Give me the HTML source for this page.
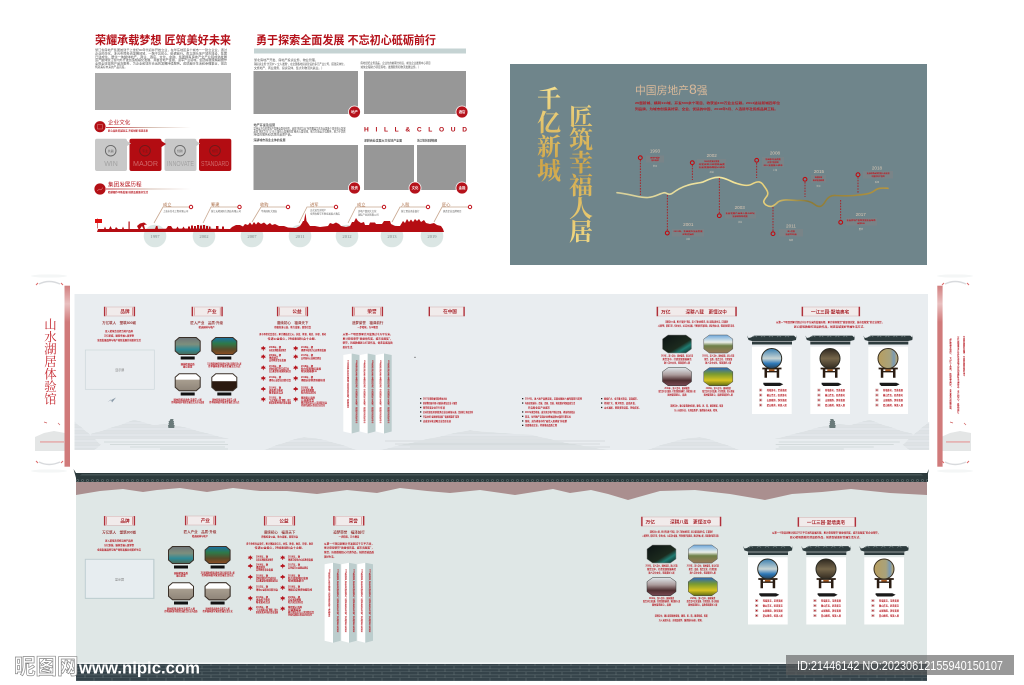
<!DOCTYPE html>
<html lang="zh"><head><meta charset="utf-8"><title>山水湖居体验馆</title>
<style>
html,body{margin:0;padding:0;background:#fff}
svg{display:block;font-family:"Liberation Sans","Noto Sans CJK SC",sans-serif}
.t{font-size:3.1px;fill:#555}
.r{font-size:2.7px;fill:#b5121b;font-weight:700}
.rs{font-size:2.3px;fill:#b5121b;font-weight:700}
.m{text-anchor:middle}
.h{font-weight:700;fill:#b5121b}
.bt{font-size:4.6px;font-weight:700;fill:#a8242b;text-anchor:middle}
.sb{font-size:3.5px;font-weight:700;fill:#9a3a3a;text-anchor:middle}
.v{writing-mode:vertical-rl;font-size:2.1px;fill:#b5121b;font-weight:700}
.g{font-family:"Noto Serif CJK SC","Liberation Serif",serif;font-weight:700;font-size:24px;text-anchor:middle;fill:url(#gold)}
.yr{font-size:4.6px;fill:#ddc9b4;text-anchor:middle}
.rr{font-size:1.9px;fill:#c2121b;font-weight:700;text-anchor:middle}
.lc{font-size:2.1px;fill:#d9cfc0;text-anchor:middle}
.ty{font-family:"Liberation Serif",serif;font-size:4.6px;fill:#7c8a8a;text-anchor:middle}
.tl{font-size:4.2px;fill:#a6653c}
.ts{font-size:2.3px;fill:#555}
.en{font-size:7px;text-anchor:middle;font-weight:400}
</style></head><body>
<svg width="1024" height="685" viewBox="0 0 1024 685" xmlns="http://www.w3.org/2000/svg">
<defs>
<linearGradient id="gold" x1="0" y1="85" x2="0" y2="245" gradientUnits="userSpaceOnUse"><stop offset="0" stop-color="#f6e08e"/><stop offset=".5" stop-color="#cfa548"/><stop offset="1" stop-color="#f3da84"/></linearGradient>
<linearGradient id="river" x1="616" y1="0" x2="890" y2="0" gradientUnits="userSpaceOnUse"><stop offset="0" stop-color="#d6cf9a"/><stop offset=".4" stop-color="#f6e89e"/><stop offset=".55" stop-color="#e7cf78"/><stop offset=".7" stop-color="#8c7a36"/><stop offset="1" stop-color="#b7963f"/></linearGradient>
<linearGradient id="fade" x1="0" x2="1"><stop offset="0" stop-color="#b5121b"/><stop offset=".5" stop-color="#c8a898"/><stop offset="1" stop-color="#fff"/></linearGradient>
<linearGradient id="bar" x1="0" x2="0" y1="0" y2="1"><stop offset="0" stop-color="#d17f7f"/><stop offset=".1" stop-color="#e9c0c0"/><stop offset=".2" stop-color="#d07a7a"/><stop offset="1" stop-color="#d07a7a"/></linearGradient>
<linearGradient id="w1" x1="0" x2="0" y1="0" y2="1"><stop offset="0" stop-color="#6f7478"/><stop offset=".4" stop-color="#7d8f7d"/><stop offset=".7" stop-color="#2f8a96"/><stop offset="1" stop-color="#4a6a55"/></linearGradient>
<linearGradient id="w2" x1="0" x2="0" y1="0" y2="1"><stop offset="0" stop-color="#1c6fa5"/><stop offset=".35" stop-color="#2d7a4a"/><stop offset=".7" stop-color="#5a4a28"/><stop offset="1" stop-color="#8c4c22"/></linearGradient>
<linearGradient id="w3" x1="0" x2="0" y1="0" y2="1"><stop offset="0" stop-color="#fff"/><stop offset=".33" stop-color="#fff"/><stop offset=".36" stop-color="#a89e90"/><stop offset="1" stop-color="#8e8478"/></linearGradient>
<linearGradient id="w4" x1="0" x2="0" y1="0" y2="1"><stop offset="0" stop-color="#fff"/><stop offset=".42" stop-color="#fff"/><stop offset=".45" stop-color="#2b1a10"/><stop offset="1" stop-color="#2b1a10"/></linearGradient>
<linearGradient id="w5" x1="0" x2="1" y1="0" y2="1"><stop offset="0" stop-color="#0b1314"/><stop offset=".6" stop-color="#1c2a1e"/><stop offset=".75" stop-color="#1f7c72"/><stop offset="1" stop-color="#0c1a18"/></linearGradient>
<linearGradient id="w6" x1="0" x2="0" y1="0" y2="1"><stop offset="0" stop-color="#6ea8dc"/><stop offset=".4" stop-color="#e9eee8"/><stop offset=".6" stop-color="#6e8048"/><stop offset="1" stop-color="#9a7a5a"/></linearGradient>
<linearGradient id="w7" x1="0" x2="0" y1="0" y2="1"><stop offset="0" stop-color="#dfe6ea"/><stop offset=".4" stop-color="#aa9a9a"/><stop offset=".7" stop-color="#4e2e30"/><stop offset="1" stop-color="#7a4a54"/></linearGradient>
<linearGradient id="w8" x1="0" x2="0" y1="0" y2="1"><stop offset="0" stop-color="#2e68b8"/><stop offset=".35" stop-color="#7a9a30"/><stop offset=".7" stop-color="#d8c420"/><stop offset="1" stop-color="#5c6a12"/></linearGradient>
<linearGradient id="c1" x1="0" x2="0" y1="0" y2="1"><stop offset="0" stop-color="#3a7fb0"/><stop offset=".5" stop-color="#c8d4d4"/><stop offset=".75" stop-color="#2d78b8"/><stop offset="1" stop-color="#254058"/></linearGradient>
<linearGradient id="c2" x1="0" x2="0" y1="0" y2="1"><stop offset="0" stop-color="#2f2820"/><stop offset=".5" stop-color="#75664a"/><stop offset="1" stop-color="#322a20"/></linearGradient>
<linearGradient id="c3" x1="0" x2="1" y1="0" y2="0"><stop offset="0" stop-color="#b99e5e"/><stop offset=".6" stop-color="#a8a27c"/><stop offset=".8" stop-color="#7a9ab4"/><stop offset="1" stop-color="#c8ac66"/></linearGradient>
<pattern id="tile" width="5" height="9" patternUnits="userSpaceOnUse"><rect width="5" height="9" fill="#2d3b3d"/><circle cx="2.5" cy="3.5" r="1.4" fill="#59686a"/><circle cx="2.5" cy="3.5" r=".6" fill="#1e2a2c"/><rect y="6.2" width="5" height="1.2" fill="#4b5a5c"/></pattern>
<pattern id="brick" width="18" height="6" patternUnits="userSpaceOnUse"><rect width="18" height="6" fill="#35434a"/><path d="M0 2.9H18M0 5.9H18M4 0V3M13 3V6" stroke="#6c7a7c" stroke-width=".45"/></pattern>
<pattern id="hl" width="2" height="1.2" patternUnits="userSpaceOnUse"><rect width="2" height="1.2" fill="#e9edf0"/><path d="M0 .6H2" stroke="#cdd4d6" stroke-width=".45"/></pattern>
<polygon id="oct" points="-12.5,-5 -8.5,-8.5 8.5,-8.5 12.5,-5 12.5,5 8.5,8.5 -8.5,8.5 -12.5,5"/>
<polygon id="oc2" points="-14.5,-5 -9,-9 9,-9 14.5,-5 14.5,5 9,9 -9,9 -14.5,5"/>
<path id="leaf" d="M0-2.4 1-.9 2.5-1 1.6 0 2.6 1 .5.9 .3 2.4H-.3L-.5.9-2.6 1-1.6 0-2.5-1-1-.9Z" fill="#b5121b"/>
<g id="tb"><rect x="0" y="0" width="31" height="9" fill="#f1ebeb" stroke="#d8b8b8" stroke-width=".6"/><rect x="0" y="-.2" width="1.3" height="9.4" fill="#b0303a"/><rect x="2.2" y=".5" width=".6" height="8" fill="#c66"/><rect x="29.7" y="-.2" width="1.3" height="9.4" fill="#b0303a"/><rect x="28.2" y=".5" width=".6" height="8" fill="#c66"/></g>
<g id="brand">
<use href="#tb" x="104" y="307"/><text class="bt" x="125" y="313">品牌</text>
<text class="sb" x="119" y="324">万亿筑人　塑筑800城</text>
<text class="rs m" x="119" y="332">匠人精筑责任担当地产品牌</text>
<text class="rs m" x="119" y="336.7">万亿新城，臻筑幸福人居梦想</text>
<text class="rs m" x="119" y="341">全面发展品牌与地产创新发展共创美好生活</text>
<rect x="85.3" y="350" width="69" height="39.3" fill="#e9edf0" stroke="#ccd7da" stroke-width=".7"/>
<text x="119.8" y="371" font-size="3" fill="#777" text-anchor="middle">显示屏</text>
</g>
<g id="product">
<use href="#tb" x="191.7" y="307"/><text class="bt" x="212" y="313">产业</text>
<text class="sb" x="206.7" y="324">匠人产业　品质·升级</text>
<text class="rs m" x="206.7" y="328">精选园林与地产</text>
<use href="#oct" x="187.7" y="346" fill="url(#w1)" stroke="#3a3028" stroke-width="1"/>
<use href="#oct" x="224.3" y="346" fill="url(#w2)" stroke="#3a3028" stroke-width="1"/>
<use href="#oct" x="187.7" y="382.3" fill="url(#w3)" stroke="#3a3028" stroke-width="1"/>
<use href="#oct" x="224.3" y="382.3" fill="url(#w4)" stroke="#3a3028" stroke-width="1"/>
<rect x="180.7" y="356.5" width="14" height="3" fill="#111"/><rect x="217.3" y="356.5" width="14" height="3" fill="#111"/>
<rect x="180.7" y="392.5" width="14" height="3" fill="#111"/><rect x="217.3" y="392.5" width="14" height="3" fill="#111"/>
<text class="rs m" x="187.7" y="365">园林精筑品质</text><text class="rs m" x="187.7" y="367.5">臻心匠造</text>
<text class="rs m" x="224.3" y="364.5" textLength="34" lengthAdjust="spacingAndGlyphs">万亿新城园林精筑品质生活匠心营造打造人居</text>
<text class="rs m" x="224.3" y="367" textLength="32" lengthAdjust="spacingAndGlyphs">传承园林美学营造幸福生活方式</text>
<text class="rs m" x="187.7" y="400.5" textLength="28" lengthAdjust="spacingAndGlyphs">园林精筑品质生活美学人居</text>
<text class="rs m" x="187.7" y="403" textLength="33" lengthAdjust="spacingAndGlyphs">传承园林美学营造幸福生活方式与品质</text>
<text class="rs m" x="224.3" y="400.5" textLength="24" lengthAdjust="spacingAndGlyphs">园林精筑品质生活美学人居</text>
<text class="rs m" x="224.3" y="403" textLength="30" lengthAdjust="spacingAndGlyphs">传承园林美学营造幸福生活方式</text>
</g>
<g id="public">
<use href="#tb" x="277" y="307"/><text class="bt" x="297" y="313">公益</text>
<text class="sb" x="292.7" y="324">赓续初心　福泽天下</text>
<text class="rs m" x="292.7" y="328">积极投身公益，助力发展，回馈社会</text>
<text class="rs m" x="292.7" y="335" textLength="67" lengthAdjust="spacingAndGlyphs">勇于承担社会责任，累计捐款近亿元，扶贫、教育、救灾、环保、助老</text>
<text class="rs m" x="292.7" y="339.3" textLength="50" lengthAdjust="spacingAndGlyphs">传递公益爱心，持续奉献社会十余载。</text>
<use href="#leaf" x="263.3" y="348.3"/><use href="#leaf" x="263.3" y="356.7"/><use href="#leaf" x="263.3" y="367.7"/><use href="#leaf" x="263.3" y="378.3"/><use href="#leaf" x="263.3" y="389"/><use href="#leaf" x="263.3" y="399.3"/>
<use href="#leaf" x="295.7" y="348.3"/><use href="#leaf" x="295.7" y="356.7"/><use href="#leaf" x="295.7" y="367.7"/><use href="#leaf" x="295.7" y="378.3"/><use href="#leaf" x="295.7" y="389"/><use href="#leaf" x="295.7" y="399.3"/>
<g class="rs">
<text x="269" y="348">2008年，捐</text><text x="269" y="351" textLength="17" lengthAdjust="spacingAndGlyphs">向灾区捐赠善款物资</text>
<text x="269" y="356">2009年，捐</text><text x="269" y="358.5">捐资助学</text><text x="269" y="361" textLength="17" lengthAdjust="spacingAndGlyphs">支持教育事业发展</text>
<text x="269" y="367">2010年，捐</text><text x="269" y="369.5" textLength="20" lengthAdjust="spacingAndGlyphs">资助贫困学生完成学业</text><text x="269" y="372" textLength="22" lengthAdjust="spacingAndGlyphs">设立基金帮扶困难家庭社区</text>
<text x="269" y="378">2012年，捐</text><text x="269" y="381" textLength="22" lengthAdjust="spacingAndGlyphs">捐助公益事业回馈社会</text>
<text x="269" y="388.5">2014年，捐</text><text x="269" y="391" textLength="14" lengthAdjust="spacingAndGlyphs">善款用于助老</text><text x="269" y="393.5" textLength="14" lengthAdjust="spacingAndGlyphs">敬老爱老活动</text>
<text x="269" y="398.5">2015年，捐</text><text x="269" y="401" textLength="22" lengthAdjust="spacingAndGlyphs">“万亿新城公益”捐赠，助力</text><text x="269" y="403.5" textLength="22" lengthAdjust="spacingAndGlyphs">脱贫攻坚乡村振兴事业发展</text>
<text x="301" y="348">2016年，捐</text><text x="301" y="351" textLength="25" lengthAdjust="spacingAndGlyphs">捐建学校助力山区教育发展</text>
<text x="301" y="356">2017年，捐</text><text x="301" y="359" textLength="20" lengthAdjust="spacingAndGlyphs">支持城市公益基金建设</text>
<text x="301" y="367">2018年，捐</text><text x="301" y="369.5" textLength="20" lengthAdjust="spacingAndGlyphs">助力贫困地区发展</text><text x="301" y="372" textLength="16" lengthAdjust="spacingAndGlyphs">帮扶困难群众</text>
<text x="301" y="378">2019年，捐</text><text x="301" y="381" textLength="24" lengthAdjust="spacingAndGlyphs">捐赠抗疫物资驰援前线</text>
<text x="301" y="388.5">2020年，捐</text><text x="301" y="391" textLength="13" lengthAdjust="spacingAndGlyphs">抗疫善款捐赠</text><text x="301" y="393.5" textLength="15" lengthAdjust="spacingAndGlyphs">助力社区防控</text>
<text x="301" y="398.5">集团爱心品牌</text><text x="301" y="401" textLength="13" lengthAdjust="spacingAndGlyphs">公益基金会</text><text x="301" y="403.5" textLength="26" lengthAdjust="spacingAndGlyphs">累计帮扶近万人次回馈社会</text><text x="301" y="406" textLength="24" lengthAdjust="spacingAndGlyphs">持续传递爱心彰显企业责任</text>
</g>
</g>
<g id="honor">
<use href="#tb" x="352" y="307"/><text class="bt" x="372" y="313">荣誉</text>
<text class="sb" x="367.7" y="324">追梦荣誉　福泽前行</text>
<text class="rs m" x="367.7" y="328">一步精筑，万众瞩目</text>
<g class="rs"><text x="342.7" y="335" textLength="50" lengthAdjust="spacingAndGlyphs">从第一个项目到累计开发超过千万平方米，</text><text x="342.7" y="339.3" textLength="50" lengthAdjust="spacingAndGlyphs">累计获得荣誉“质量领先奖、城市贡献奖”，</text><text x="342.7" y="343.7" textLength="50" lengthAdjust="spacingAndGlyphs">荣誉，历经数载匠心打造作品，创造百城品质</text><text x="342.7" y="348" textLength="12" lengthAdjust="spacingAndGlyphs">美好生活。</text></g>
<polygon points="343.3,355 351.7,353.5 351.7,433.5 343.3,431.5" fill="#fff"/><polygon points="351.7,353.5 359.3,355 359.3,431.5 351.7,433.5" fill="#bccdcd"/>
<polygon points="360,355 367.7,353.5 367.7,433.5 360,431.5" fill="#fff"/><polygon points="367.7,353.5 375.3,355 375.3,431.5 367.7,433.5" fill="#bccdcd"/>
<polygon points="376,355 384,353.5 384,433.5 376,431.5" fill="#fff"/><polygon points="384,353.5 391.7,355 391.7,431.5 384,433.5" fill="#bccdcd"/>
<text class="v" x="347.5" y="360" textLength="48" lengthAdjust="spacingAndGlyphs">2010年荣获地产开发企业品牌奖项，荣获城市优秀企业称号，诚信经营单位</text>
<text class="v" x="356" y="360" textLength="63" lengthAdjust="spacingAndGlyphs">2012年荣誉地产开发企业品牌价值领先，荣获城市优秀企业称号，诚信经营单位优秀示范</text>
<text class="v" x="364" y="360" textLength="63" lengthAdjust="spacingAndGlyphs">2014年荣获地产开发企业品牌价值领先，荣获城市优秀企业称号，诚信经营单位优秀示范</text>
<text class="v" x="372" y="360" textLength="63" lengthAdjust="spacingAndGlyphs">2015年荣获地产开发企业品牌价值领先，荣获城市优秀企业称号，诚信经营单位优秀示范</text>
<text class="v" x="380" y="360" textLength="63" lengthAdjust="spacingAndGlyphs">2016年荣获地产开发企业品牌价值领先，荣获城市优秀企业称号，诚信经营单位优秀示范</text>
<text class="v" x="388" y="360" textLength="63" lengthAdjust="spacingAndGlyphs">2017年荣获地产开发企业品牌价值领先，荣获城市优秀企业称号，诚信经营单位优秀示范</text>
</g>
<g id="wy">
<rect x="656.7" y="307" width="80" height="9" fill="#f1ebeb" stroke="#d8b8b8" stroke-width=".6"/><rect x="656.7" y="306.8" width="1.4" height="9.4" fill="#b0303a"/><rect x="735.3" y="306.8" width="1.4" height="9.4" fill="#b0303a"/>
<text x="661" y="313.3" font-size="4.8" font-weight="700" fill="#a8242b">万亿</text><text x="685.5" y="313.3" font-size="4.6" font-weight="700" fill="#a8242b">深耕八载　更懂汉中</text>
<text class="rs m" x="696.7" y="322.3" textLength="63" lengthAdjust="spacingAndGlyphs">深耕汉中八载，累计开发多个项目，深入了解本地需求，匠心营造品质生活，汇聚美好</text>
<text class="rs m" x="696.7" y="326.3" textLength="78" lengthAdjust="spacingAndGlyphs">人居梦想，精筑万家，传承文化，立足汉中发展，不断创新开发理念，建设幸福人居，筑就美好城市未来。</text>
<use href="#oc2" x="677" y="344" fill="url(#w5)" stroke="#888" stroke-width=".5"/>
<use href="#oc2" x="718.3" y="344" fill="url(#w6)" stroke="#555" stroke-width=".5"/>
<use href="#oc2" x="677" y="376.7" fill="url(#w7)" stroke="#333" stroke-width=".5"/>
<use href="#oc2" x="718.3" y="376.7" fill="url(#w8)" stroke="#444" stroke-width=".5"/>
<g class="rs m"><text x="677" y="356.5" textLength="32" lengthAdjust="spacingAndGlyphs">2016年，深入汉中，园林营造，匠心打造</text><text x="677" y="360" textLength="29" lengthAdjust="spacingAndGlyphs">荣誉汉中，打造宜居新城典范</text><text x="677" y="363.3" textLength="26" lengthAdjust="spacingAndGlyphs">融入汉中文化，筑就美好人居</text>
<text x="718.3" y="356.5" textLength="32" lengthAdjust="spacingAndGlyphs">2018年，深入汉中，园林营造，匠心打造</text><text x="718.3" y="360" textLength="28" lengthAdjust="spacingAndGlyphs">荣誉，品质，融合文化，打造宜居</text><text x="718.3" y="363.3" textLength="26" lengthAdjust="spacingAndGlyphs">融入汉中文化，筑就美好人居</text>
<text x="677" y="388.8" textLength="25" lengthAdjust="spacingAndGlyphs">2019年，深入汉中，园林营造</text><text x="677" y="392.2" textLength="37" lengthAdjust="spacingAndGlyphs">融合汉中文化发展，打造宜居新城典范，筑就美好人居</text><text x="677" y="395.6" textLength="19" lengthAdjust="spacingAndGlyphs">园林营造匠心，品质</text>
<text x="718.3" y="388.8" textLength="25" lengthAdjust="spacingAndGlyphs">2020年，深入汉中，园林营造</text><text x="718.3" y="392.2" textLength="32" lengthAdjust="spacingAndGlyphs">融合汉中文化发展，打造宜居，匠心新城</text><text x="718.3" y="395.6" textLength="29" lengthAdjust="spacingAndGlyphs">园林营造匠心，品质筑就美好人居</text></g>
<text class="rs m" x="696.7" y="406.5" textLength="53" lengthAdjust="spacingAndGlyphs">深耕汉中，臻心营造园林宜居，臻筑、匠、精，臻造新城，筑美</text>
<text class="rs m" x="696.7" y="411" textLength="45" lengthAdjust="spacingAndGlyphs">万人安居乐业，实现品质梦，臻造城市未来，精筑。</text>
</g>
<g id="cb">
<rect x="0" y="346.7" width="39.7" height="67.3" fill="#fff"/>
<path d="M-5,335.5 -3.5,338 -1,337.5 2,335.6 42,335.6 44,337.5 44.7,335 44,340 40,341 40,344.5 0,344.5 0,341 -3.5,340Z" fill="#2d3b3d"/>
<path d="M0,341.5H40" stroke="#fff" stroke-width=".5"/><path d="M1,337 3,335.5 5,337M9,337 11,335.5 13,337M17,337 19,335.5 21,337M25,337 27,335.5 29,337M33,337 35,335.5 37,337" stroke="#7c8a8c" stroke-width=".6" fill="none"/>
<path d="M10.3,367.6H29.5V369.4H10.3ZM12.5,369.4H15V377.8H12.5ZM24.7,369.4H27.2V377.8H24.7ZM15,371H24.7V372.4H15Z" fill="#2a1c12"/>
<rect x="17" y="369.4" width="5.5" height="1.6" fill="#a85a20"/>
<path d="M11.3,382.7H28L31.3,384.3 28,386H13L11.3,384.3Z" fill="#1a1a1a"/>
<g fill="#d6b8b8"><rect x="7" y="388.7" width="3.2" height="2.8"/><rect x="7" y="393.7" width="3.2" height="2.8"/><rect x="7" y="398.7" width="3.2" height="2.8"/><rect x="7" y="403.7" width="3.2" height="2.8"/></g>
<g fill="#b5121b"><rect x="8" y="389.5" width="1.2" height="1.2"/><rect x="8" y="394.5" width="1.2" height="1.2"/><rect x="8" y="399.5" width="1.2" height="1.2"/><rect x="8" y="404.5" width="1.2" height="1.2"/></g>
<g class="rs"><text x="14.7" y="390.8" textLength="20" lengthAdjust="spacingAndGlyphs">苑墙美宅，至善美居</text><text x="14.7" y="395.8" textLength="20" lengthAdjust="spacingAndGlyphs">徽山青瓦，匠造美宅</text><text x="14.7" y="400.8" textLength="20" lengthAdjust="spacingAndGlyphs">山居雅韵，静享美居</text><text x="14.7" y="405.8" textLength="20" lengthAdjust="spacingAndGlyphs">墅山雅苑，筑美人居</text></g>
</g>
<g id="yj">
<rect x="801.7" y="307" width="58.3" height="9" fill="#f1ebeb" stroke="#d8b8b8" stroke-width=".6"/><rect x="801.7" y="306.8" width="1.4" height="9.4" fill="#b0303a"/><rect x="858.6" y="306.8" width="1.4" height="9.4" fill="#b0303a"/>
<text x="830" y="313.3" font-size="4.6" font-weight="700" fill="#a8242b" text-anchor="middle">一江三园·墅墙奥宅</text>
<text class="rs m" x="830" y="323" textLength="108" lengthAdjust="spacingAndGlyphs">从第一个项目到累计超过千万平方米的发展历程，累计获得荣誉“质量领先奖、城市贡献奖”的企业荣誉，</text>
<text class="rs m" x="830" y="327.6" textLength="72" lengthAdjust="spacingAndGlyphs">匠心精筑数载打造品质作品，创造百城美好幸福生活方式。</text>
<use href="#cb" x="752"/><use href="#cb" x="810.3"/><use href="#cb" x="868.3"/>
<circle cx="771.7" cy="358.5" r="10" fill="url(#c1)" stroke="#2a2a22" stroke-width="1"/>
<circle cx="830" cy="358.5" r="10" fill="url(#c2)" stroke="#2a2a22" stroke-width="1"/>
<circle cx="888" cy="358.5" r="10" fill="url(#c3)" stroke="#3a3020" stroke-width="1"/>
</g>
<g id="sc">
<ellipse cx="15" cy="276" rx="18" ry="1.6" fill="#f4f6f6"/><ellipse cx="15" cy="471" rx="18" ry="1.6" fill="#f4f6f6"/>
<path d="M5 284Q15 279 26 284" stroke="#d8dadd" stroke-width="1.4" fill="none"/><path d="M5 462Q15 467 26 462" stroke="#d8dadd" stroke-width="1.4" fill="none"/>
<path d="M2,285 4,283M29,285 27,283M2,461 4,463M29,461 27,463" stroke="#d66" stroke-width="1" fill="none"/>
<path d="M1,437 10,433 20,431 31,433 31,451 1,451Z" fill="#e4e6e6"/><rect x="6" y="441" width="24" height="1.8" fill="#e5b4b4"/>
<path d="M10 422l3 1M24 423l2 2" stroke="#d06060" stroke-width=".7"/>
</g>
<g id="hills">
<path d="M74.500,421.700Q90,434 101,445L94,450H74.500Z" fill="url(#hl)"/>
<path d="M91,434Q115,427 134,420Q146,423 154,425Q166,423 172,425Q190,428 205,433Q218,436 229,439H91Z" fill="url(#hl)"/>
<path d="M264,450Q290,440 304,437Q325,439 345,446L357,450Z" fill="url(#hl)"/>
<path d="M104,442H225M110,444.500H228M130,447H225M160,449H228" stroke="#ccd3d3" stroke-width=".7" fill="none"/>
<path d="M170.500,419h3l-.4,2h.9l-.4,2h.6l-.5,2h.9l-.4,3h-5.800l-.4-3h.9l-.5-2h.6l-.4-2h.9Z" fill="#6a7a7a"/>
</g>
</defs>
<rect width="1024" height="685" fill="#fff"/>

<!-- top-left board -->
<text x="95" y="44" font-size="11.6" class="h" textLength="136" lengthAdjust="spacingAndGlyphs">荣耀承载梦想 匠筑美好未来</text>
<text x="256" y="44" font-size="11.4" class="h" textLength="180" lengthAdjust="spacingAndGlyphs">勇于探索全面发展 不忘初心砥砺前行</text>
<rect x="254" y="48.500" width="212" height="5" fill="#c5d3d3"/>
<g class="t"><text x="95" y="51" textLength="132" lengthAdjust="spacingAndGlyphs">浙江省房地产集团始建于上世纪90年代初并开始立业，在华东地区多个城市一一建立企业，通过</text><text x="95" y="54.400" textLength="132" lengthAdjust="spacingAndGlyphs">企业的深化，多元布局投资发展领域，一路不忘初心、砥砺前行。勇立潮头地产城市建设，集团</text><text x="95" y="57.800" textLength="132" lengthAdjust="spacingAndGlyphs">已建成住、居住一体整体地产、商业、酒店、文化、金融、集团拥有房地产全产业链成熟发展</text><text x="95" y="61.200" textLength="132" lengthAdjust="spacingAndGlyphs">运产整体浙江省内外开发创造规模化发展、并整合地产金融、进军产业领域。集团将继续精耕细作</text><text x="95" y="64.600" textLength="132" lengthAdjust="spacingAndGlyphs">全筑全球建筑产品及服务、为企业和城市长远的发展持续服务。成就美好生活和幸福事业，提高</text><text x="95" y="68" textLength="32" lengthAdjust="spacingAndGlyphs">筑就美好未来的产品高度。</text></g>
<rect x="95" y="73" width="136" height="37" fill="#aaa"/>
<circle cx="100" cy="126.700" r="5.600" fill="#b30f15"/><rect x="97.500" y="124.500" width="5" height="4.500" fill="none" stroke="#e8a0a0" stroke-width=".4"/>
<text x="108" y="124.500" font-size="5.600" fill="#b5121b">企业文化</text>
<rect x="106" y="127" width="85" height=".8" fill="url(#fade)"/>
<text class="rs" x="108" y="131.500" textLength="40" lengthAdjust="spacingAndGlyphs">匠心品质 精诚务实 开拓创新 筑造未来</text>
<rect x="95" y="138.700" width="32" height="32.300" rx="2" fill="#c8c8c8"/><rect x="129.500" y="138.700" width="32" height="32.300" rx="2" fill="#b30c12"/><rect x="164.500" y="138.700" width="32" height="32.300" rx="2" fill="#c8c8c8"/><rect x="199" y="138.700" width="32.300" height="32.300" rx="2" fill="#b30c12"/>
<path d="M127,141 131,143.500 127,146Z" fill="#c8c8c8"/><path d="M161.500,141 166,144 161.500,147Z" fill="#b30c12"/><path d="M196.500,141 200,143.500 196.500,146Z" fill="#c8c8c8"/>
<g fill="none" stroke-width=".9"><circle cx="110.700" cy="150.700" r="5.300" stroke="#666"/><circle cx="145" cy="150.700" r="5.300" stroke="#6d1a1a"/><circle cx="180" cy="150.700" r="5.300" stroke="#666"/><circle cx="215" cy="150.700" r="5.300" stroke="#6d1a1a"/></g>
<g font-size="3" text-anchor="middle"><text x="110.700" y="151.800" fill="#666">共赢</text><text x="145" y="151.800" fill="#6d1a1a">专业</text><text x="180" y="151.800" fill="#666">创新</text><text x="215" y="151.800" fill="#6d1a1a">规范</text></g>
<text class="en" x="111" y="166" fill="#a2a2a2">WIN</text><text class="en" x="145.500" y="166" fill="#cf6a6a" textLength="25" lengthAdjust="spacingAndGlyphs">MAJOR</text><text class="en" x="180.500" y="166" fill="#a2a2a2" textLength="27" lengthAdjust="spacingAndGlyphs">INNOVATE</text><text class="en" x="215" y="166" fill="#cf6a6a" textLength="28" lengthAdjust="spacingAndGlyphs">STANDARD</text>
<circle cx="100" cy="189" r="5.600" fill="#b30f15"/><path d="M97,191 99.500,189 101,190 103,187.500" stroke="#e8a0a0" stroke-width=".5" fill="none"/>
<text x="108" y="186.500" font-size="5.600" fill="#b5121b">集团发展历程</text>
<rect x="106" y="188.600" width="85" height=".8" fill="url(#fade)"/>
<text class="rs" x="108" y="193.200" textLength="40" lengthAdjust="spacingAndGlyphs">精耕细作不断发展 创造品质美好生活</text>

<g class="t"><text x="254" y="60.800" textLength="64" lengthAdjust="spacingAndGlyphs">浙北房地产开发、房地产投资业务、物业管理、</text><text x="254" y="64.800" textLength="92" lengthAdjust="spacingAndGlyphs">销投资业务“长流水”+“立人发展”，在全国各地投资建设的多元产业公司、搭建实体化，</text><text x="254" y="68.800" textLength="70" lengthAdjust="spacingAndGlyphs">文旅地产、商业服务、投资实体、集大利物流共赢业。）</text></g>
<g class="t"><text x="360.500" y="64" textLength="70" lengthAdjust="spacingAndGlyphs">房地经纪业务涵盖，企业化的前期分析后，前往企业发展中心项目</text><text x="360.500" y="68" textLength="60" lengthAdjust="spacingAndGlyphs">诚信全程助力项目落地，发展服务和物流发展业务。）</text></g>
<g fill="#979797"><rect x="253.500" y="71" width="104.500" height="43"/><rect x="364" y="71" width="102" height="43"/><rect x="253.500" y="145" width="104.500" height="45"/><rect x="364" y="145" width="50" height="45"/><rect x="417" y="145" width="49" height="45"/></g>
<g fill="#b5121b" stroke="#fff" stroke-width=".8"><circle cx="354.500" cy="112" r="6"/><circle cx="462" cy="112" r="6"/><circle cx="354.500" cy="188" r="6"/><circle cx="415" cy="188" r="6"/><circle cx="462" cy="188" r="6"/></g>
<g font-size="3.400" fill="#fff" text-anchor="middle" font-weight="700"><text x="354.500" y="113.200">地产</text><text x="462" y="113.200">酒店</text><text x="354.500" y="189.200">投资</text><text x="415" y="189.200">文化</text><text x="462" y="189.200">金融</text></g>
<g class="t"><text x="253.500" y="126" font-weight="700">地产开发及运营</text><text x="253.500" y="129.600" textLength="92" lengthAdjust="spacingAndGlyphs">坚持全方位的房地产发展全面化布局，品牌“筑就立业”布局覆盖华东及全国多个城市核心区域</text><text x="253.500" y="132.600" textLength="92" lengthAdjust="spacingAndGlyphs">品牌“筑就华东”与“长三角核心发展的城”整合人居领域，致力打造全方位服务，筑力于优质</text><text x="253.500" y="135.600" textLength="40" lengthAdjust="spacingAndGlyphs">持续的服务和优质的品质产品。</text><text x="253.500" y="141" font-weight="700" textLength="32" lengthAdjust="spacingAndGlyphs">深耕城市商业主体的发展</text></g>
<text x="364" y="131.500" font-size="6.600" font-weight="700" fill="#b5121b" textLength="103" lengthAdjust="spacing">HILL&amp;CLOUD</text>
<text class="t" x="364" y="141.500" font-weight="700" textLength="38" lengthAdjust="spacingAndGlyphs">深耕商业发展大文化地产全面</text><text class="t" x="417" y="141.500" font-weight="700" textLength="20" lengthAdjust="spacingAndGlyphs">浙江地块深耕精细</text>

<!-- timeline -->
<g fill="#dbe6e4"><circle cx="155" cy="236" r="11.300"/><circle cx="204" cy="236" r="11.300"/><circle cx="252" cy="236" r="11.300"/><circle cx="300" cy="236" r="11.300"/><circle cx="347" cy="236" r="11.300"/><circle cx="392" cy="236" r="11.300"/><circle cx="432" cy="236" r="11.300"/></g>
<g class="ty"><text x="155" y="238">1997</text><text x="204" y="238">2002</text><text x="252" y="238">2007</text><text x="300" y="238">2011</text><text x="347" y="238">2012</text><text x="392" y="238">2013</text><text x="432" y="238">2019</text></g>
<g fill="none" stroke="#c9a890" stroke-width=".8"><path d="M154,223 163,207H189"/><path d="M203,223 211,207H238"/><path d="M252,222 261,207H286"/><path d="M299,223 307,207H334"/><path d="M348,223 356,207H382"/><path d="M392,222 400,207H426"/><path d="M434,222 442,207H468"/></g>
<g fill="#fff" stroke="#c2121b" stroke-width="1"><circle cx="191" cy="207" r="1.700"/><circle cx="239.500" cy="207" r="1.700"/><circle cx="288" cy="207" r="1.700"/><circle cx="336" cy="207" r="1.700"/><circle cx="384" cy="207" r="1.700"/><circle cx="428" cy="207" r="1.700"/><circle cx="470" cy="207" r="1.700"/></g>
<g class="tl"><text x="163" y="206">成立</text><text x="211" y="206">筹建</text><text x="260" y="206">收购</text><text x="310" y="206">进军</text><text x="357" y="206">成立</text><text x="401" y="206">入股</text><text x="442" y="206">匠心</text></g>
<g class="ts"><text x="163" y="212">上海市住宅工程有限公司</text><text x="211" y="212">浙江天地国际大酒店有限公司</text><text x="261" y="212">华南国际大酒店</text><text x="310" y="211">正式进军房地产</text><text x="310" y="214.500">全资收购华东物业发展大酒店</text><text x="358" y="212">房地产集团大文化</text><text x="358" y="215.500">国际产业园有限公司</text><text x="401" y="212">浙江置业商业银行</text><text x="443" y="212">筑造企业品牌项目</text></g>
<g fill="#b50d13">
<polygon points="97,232 98,229 140,229 190,228.500 230,229 232,227 236,225 240,225 243,226.500 245,224 248,225 250,222.500 252,225 254,222 256,224.500 258,222 261,224 264,222.500 267,225 270,223 272,225 275,224 279,226 284,226 288,227.500 296,228 300,226 302,223 303,221 304,221 305.500,213 306.500,221 308,223 310,226 315,226 320,227 328,226 330,223 333,224 336,222.500 339,224 341,226 346,227 350,226 352,222 354,222 356,218 358,221 361,223 364,222 365,225 369,225 370,222.500 375,222.500 376,224 382,224 384,221 390,221 391,224 395,226 400,226 403,221 405,223 407,219 409,222 411,219.500 413,222 415,219 417,221 419,219 421,222 424,220 426,223 430,224 434,223 437,225 441,226 443,229 444,232"/>
<rect x="128.500" y="221.500" width="1.200" height="8"/>
<path d="M137,226 140,223.500 144,222.500 147,224.500 144,225 145,229H143.500L142,226 140,229H138.500Z"/>
<path d="M104,229 105,226.500 106,229ZM109,229 110.500,226 112,229ZM115,229 116,227 118,229ZM122,229 123,226.500 124,229ZM155,229 156,226 157.500,226 158,229ZM166,229 168,226 171,226 173,229ZM176,229 177.500,226.500 179,229ZM182,229 183.500,226.500 185,229Z"/>
<rect x="188" y="226.500" width="2" height="2.500"/><rect x="191" y="225.500" width="2" height="3.500"/><rect x="194" y="226" width="2" height="3"/><rect x="197" y="225" width="2" height="4"/><rect x="200" y="225.500" width="2" height="3.500"/><rect x="203" y="225" width="2" height="4"/><rect x="206" y="226" width="2" height="3"/><rect x="209" y="226.500" width="1.500" height="2.500"/><rect x="216" y="226" width="2.500" height="3"/><rect x="222" y="226.500" width="2" height="2.500"/>
</g>
<rect x="97" y="218.500" width=".6" height="10" fill="#b50d13"/><rect x="95" y="219" width="7" height="4" fill="#e01010"/>

<!-- gold panel -->
<rect x="510" y="64" width="417" height="201" fill="#6f858b"/>
<g class="g"><text x="549" y="107">千</text><text x="549" y="131">亿</text><text x="549" y="155">新</text><text x="549" y="179">城</text></g>
<g class="g"><text x="581" y="125">匠</text><text x="581" y="148">筑</text><text x="581" y="171">幸</text><text x="581" y="194">福</text><text x="581" y="217">人</text><text x="581" y="240">居</text></g>
<text x="635" y="94" font-size="10.800" fill="#d9b99a">中国房地产<tspan font-size="14">8</tspan>强</text>
<text x="635" y="104" font-size="3" fill="#b5121b" font-weight="700" textLength="145" lengthAdjust="spacingAndGlyphs">26载新城、横跨111城、开发500余个项目、收获逾100万业主信赖。2014进驻新城四年位</text>
<text x="635" y="110" font-size="3" fill="#b5121b" font-weight="700" textLength="143" lengthAdjust="spacingAndGlyphs">列品牌，为城市创造美好家、全业、优质的中国、2018年5月、入选新华社民族品牌工程。</text>
<path d="M617,192.700C630,194 640,198 648,197.500S660,193 665,192.700C668,194 669,195 672,193.500C678,189 682,187 687,185.500C694,183 698,183.500 703,182C709,179 714,177 719,177.300C727,178 731,182 737,183.500C745,186 749,186 753,183.500C758,181 761,181 764,186C767,190 769,193 767,196C764,200 762,202 766,205C771,208 774,206 778,202C783,199 790,200 797,200.500C804,200 810,201 814,204C819,208 822,207 825,202C828,197 831,195 836,195.500C844,196 852,196 858,195C864,194.500 870,194 874,191C878,187.500 882,188 888,188.300" fill="none" stroke="url(#river)" stroke-width="1.600" stroke-linecap="round"/>
<g stroke="#b50d13" stroke-width=".8" stroke-dasharray="1.600 1.200" fill="none"><path d="M640.300,160V195"/><path d="M692.300,165V180"/><path d="M756.700,163V178"/><path d="M805,182V197"/><path d="M858,177V193"/><path d="M667.300,195V231"/><path d="M719.300,178V213"/><path d="M773,207V231"/><path d="M840.700,200V220"/></g>
<g fill="none" stroke="#c10b10" stroke-width="1.100"><circle cx="640.300" cy="157.700" r="1.900"/><circle cx="692.300" cy="162.700" r="1.900"/><circle cx="756.700" cy="160.300" r="1.900"/><circle cx="805" cy="179.300" r="1.900"/><circle cx="858" cy="174.700" r="1.900"/><circle cx="667.300" cy="233" r="1.900"/><circle cx="719.300" cy="215.700" r="1.900"/><circle cx="773" cy="233.700" r="1.900"/><circle cx="840.700" cy="222.300" r="1.900"/></g>
<g fill="#7d8487" opacity=".75"><rect x="646" y="155.500" width="18" height="7"/><rect x="697" y="159" width="29" height="10"/><rect x="762" y="157" width="22" height="10"/><rect x="811" y="175" width="15" height="7.500"/><rect x="863" y="171" width="30" height="7.500"/><rect x="672" y="229" width="32" height="7.500"/><rect x="725" y="211" width="31" height="7.500"/><rect x="779" y="229" width="24" height="7.500"/><rect x="846" y="218" width="31" height="7.500"/></g>
<g class="yr"><text x="655" y="152.500">1993</text><text x="711.700" y="156.800">2002</text><text x="775" y="154.500">2008</text><text x="819" y="173">2015</text><text x="877" y="169.500">2018</text><text x="688.300" y="226">2001</text><text x="739.700" y="208.800">2003</text><text x="791" y="227.500">2011</text><text x="860.700" y="215.800">2017</text></g>
<g class="rr"><text x="655" y="158.500">房地产起步</text><text x="655" y="161">创办新城</text><text x="711.700" y="162">企业开发建设发展</text><text x="711.700" y="165" textLength="26" lengthAdjust="spacingAndGlyphs">开发住宅小区项目品质</text><text x="711.700" y="168" textLength="26" lengthAdjust="spacingAndGlyphs">全面发展布局核心城市</text><text x="773" y="160">集团成立全面发展</text><text x="773" y="163">开发大型项目</text><text x="773" y="166" textLength="19" lengthAdjust="spacingAndGlyphs">深入全国核心城市</text><text x="818.500" y="178">拓展城市</text><text x="818.500" y="181">新城全国布局</text><text x="878" y="174">全面布局品牌发展入选全国</text><text x="878" y="177">中国房地产百强</text><text x="688" y="232" textLength="29" lengthAdjust="spacingAndGlyphs">2001年，集团成立全面发展</text><text x="688" y="235">住宅开发品牌</text><text x="740" y="214" textLength="29" lengthAdjust="spacingAndGlyphs">全面发展产品进入核心区域</text><text x="740" y="217">全面布局城市发展</text><text x="791" y="232">进入发展</text><text x="791" y="235">全面优化升级</text><text x="861" y="221" textLength="29" lengthAdjust="spacingAndGlyphs">全面房地产百强发展全面布局</text><text x="861" y="224">品牌企业</text></g>
<g class="lc"><text x="655" y="167">常州</text><text x="711.700" y="173">武进</text><text x="775" y="171">上海</text><text x="818.500" y="187">长沙</text><text x="877" y="183">香港</text><text x="688" y="240">江苏</text><text x="740" y="223">北京</text><text x="791" y="241">深圳</text><text x="861" y="230">重庆</text></g>

<!-- upper display panel -->
<rect x="74.500" y="294" width="853.500" height="156" fill="#e9edf0"/>
<use href="#hills"/>
<use href="#hills" transform="translate(1003.700 0) scale(-1 1)"/>
<path d="M380,450Q440,436 470,430Q490,433 533,435Q570,445 610,450Z" fill="url(#hl)"/>
<path d="M385,441H605M395,444H600M410,447H610" stroke="#d0d6d8" stroke-width=".7" fill="none"/>
<path d="M107.500,402 116,397.500 112,402.500 111,399.500Z" fill="#8a9aa8"/>
<circle cx="415" cy="357.300" r=".6" fill="#444"/>
<use href="#brand"/><use href="#product"/><use href="#public"/><use href="#honor"/><use href="#wy"/><use href="#yj"/>
<rect x="428.700" y="307" width="36" height="9" fill="#f1ebeb" stroke="#d8b8b8" stroke-width=".6"/><rect x="428.700" y="306.800" width="1.300" height="9.400" fill="#b0303a"/><rect x="463.400" y="306.800" width="1.300" height="9.400" fill="#b0303a"/>
<text class="bt" x="450" y="313">在中国</text>
<g fill="#222"><rect x="420" y="398" width="1.300" height="1.300"/><rect x="420" y="402.400" width="1.300" height="1.300"/><rect x="420" y="406.800" width="1.300" height="1.300"/><rect x="420" y="411.300" width="1.300" height="1.300"/><rect x="420" y="415.700" width="1.300" height="1.300"/><rect x="420" y="420.300" width="1.300" height="1.300"/>
<rect x="522" y="398" width="1.300" height="1.300"/><rect x="522" y="402.400" width="1.300" height="1.300"/><rect x="522" y="411.300" width="1.300" height="1.300"/><rect x="522" y="415.700" width="1.300" height="1.300"/><rect x="522" y="420.300" width="1.300" height="1.300"/><rect x="522" y="424.700" width="1.300" height="1.300"/>
<rect x="601" y="398" width="1.300" height="1.300"/><rect x="601" y="402.400" width="1.300" height="1.300"/><rect x="601" y="406.800" width="1.300" height="1.300"/></g>
<g class="rs"><text x="423" y="399.500" textLength="24" lengthAdjust="spacingAndGlyphs">2017年荣获福布斯榜单企业</text><text x="423" y="404" textLength="34" lengthAdjust="spacingAndGlyphs">荣获第四届中国十强城市建设企业十强奖</text><text x="423" y="408.300" textLength="22" lengthAdjust="spacingAndGlyphs">荣誉获奖企业2018年度</text><text x="423" y="412.800" textLength="50" lengthAdjust="spacingAndGlyphs">全球共享经济领域优秀企业名录榜单代表，连续榜上有名优秀</text><text x="423" y="417.300" textLength="36" lengthAdjust="spacingAndGlyphs">开启中国“金融创新发展”“发展新篇章”奖项</text><text x="423" y="421.800" textLength="28" lengthAdjust="spacingAndGlyphs">达成全球化战略企业责任名单</text>
<text x="525" y="399.500" textLength="57" lengthAdjust="spacingAndGlyphs">2014年，进入地产品牌百强，总营业额进入福布斯排行前列</text><text x="525" y="404" textLength="50" lengthAdjust="spacingAndGlyphs">布局全国城市，百城、百园、百城、筑就美好家园品质生活</text><text x="528" y="408.300" textLength="22" lengthAdjust="spacingAndGlyphs">开启新业态产业城市</text><text x="525" y="412.800" textLength="50" lengthAdjust="spacingAndGlyphs">2017年荣誉榜单，成为房企地产物业百强，榜单持续增长</text><text x="525" y="417.300" textLength="46" lengthAdjust="spacingAndGlyphs">首次，位列地产百强企业榜单品牌价值排行第五位</text><text x="525" y="421.800" textLength="42" lengthAdjust="spacingAndGlyphs">荣获、成为榜单中的“最佳人居榜单”排名第</text><text x="525" y="426.200" textLength="32" lengthAdjust="spacingAndGlyphs">全面推进企业，持续推进品质工程</text>
<text x="604" y="399.500" textLength="35" lengthAdjust="spacingAndGlyphs">继续扩大、全市重大项目、百强城市、</text><text x="604" y="404" textLength="33" lengthAdjust="spacingAndGlyphs">持续扩大、重大项目、品质开发、</text><text x="604" y="408.300" textLength="37" lengthAdjust="spacingAndGlyphs">山水湖居、荣获多项目奖、持续成长、</text></g>

<!-- scrolls -->
<use href="#sc" x="34"/>
<rect x="64.500" y="285.700" width="5.500" height="181" fill="url(#bar)"/>
<text x="49.500" y="318" style="writing-mode:vertical-rl;font-family:'Liberation Serif','Noto Serif CJK SC',serif" font-size="12.400" fill="#c5272e">山水湖居体验馆</text>
<use href="#sc" x="940"/>
<rect x="937.300" y="285.700" width="5.300" height="181" fill="url(#bar)"/>
<text class="v" x="963.500" y="336" font-size="2.300" textLength="42" lengthAdjust="spacingAndGlyphs">全面发展的品牌，全面发展品质生活，</text>
<text class="v" x="957.800" y="336" font-size="2.300" textLength="80" lengthAdjust="spacingAndGlyphs">万亿新城全方位打造幸福人居的美好生活理念，不忘初心，砥砺前行，</text>
<text class="v" x="950" y="336" font-size="2.300" textLength="76" lengthAdjust="spacingAndGlyphs">「匠筑幸福」，万亿人居，精筑美好，未来共创辉煌，</text>

<!-- wall -->
<rect x="76" y="482" width="851" height="198" fill="#dfe7e6"/>
<path d="M76,482 927,482 927,495 890,493 851,489 822,492 792,494 765,500 730,494 695,490 660,491 628,500 608,494 591,490 570,493 553,489 515,495 480,490 450,493 427,491 400,488 377,493 347,490 317,494 287,491 260,491 233,488 207,492 180,488 157,490 143,492 123,489 100,491 76,495Z" fill="#aa8f8f"/>
<rect x="76" y="473" width="852" height="9" fill="url(#tile)"/>
<path d="M73.500,469 76,473 82,474 76,478Z" fill="#2d3b3d"/><path d="M929,469 927,473 921,474 927,478Z" fill="#2d3b3d"/>
<rect x="76" y="664" width="851" height="17" fill="url(#brick)"/><rect x="76" y="662.500" width="851" height="1.500" fill="#f2f5f5"/>
<use href="#brand" y="209.300"/>
<rect x="85.300" y="559.300" width="68.400" height="39" fill="#e7edf0" stroke="#bccccf" stroke-width=".9"/><text x="119.500" y="580.300" font-size="3" fill="#777" text-anchor="middle">显示屏</text>
<use href="#product" x="-6.700" y="209"/>
<use href="#oct" x="217.600" y="591.300" fill="url(#w3)" stroke="#3a3028" stroke-width="1"/>
<use href="#public" x="-13" y="209.300"/>
<use href="#honor" x="-18.700" y="209.300"/>
<use href="#wy" x="-15.500" y="210"/>
<use href="#yj" x="-4" y="210.500"/>

<!-- watermarks -->
<text x="14" y="674" font-size="21.500" fill="#fff" stroke="#8a8a8a" stroke-width=".7" font-weight="700">昵图网</text>
<text x="79" y="673.500" font-size="16.500" fill="#fff" font-weight="700" textLength="121" lengthAdjust="spacingAndGlyphs">www.nipic.com</text>
<rect x="786" y="655" width="228" height="20" fill="#5a5a5a" opacity=".62"/>
<text x="797" y="670" font-size="12.600" fill="#fff" textLength="206" lengthAdjust="spacingAndGlyphs">ID:21446142 NO:20230612155940150107</text>
</svg>
</body></html>
